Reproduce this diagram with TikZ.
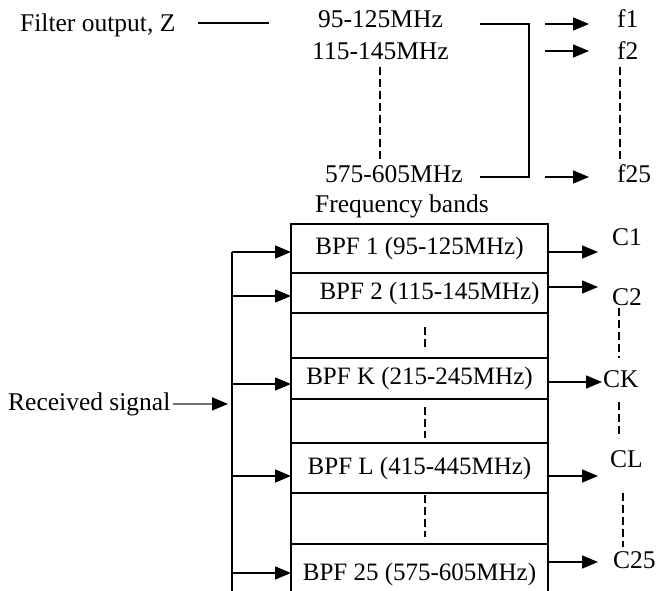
\documentclass[tikz,border=0pt]{standalone}
\usepackage{fontspec}
\setmainfont{Liberation Serif}
\usepackage{tikz}
\usetikzlibrary{arrows.meta, positioning, calc}
\tikzstyle{line} = [line width=1.5pt]
\tikzstyle{arrow} = [line width=1.5pt, -{Triangle[length=16pt, width=13pt]}]
\tikzstyle{dots} = [line width=1.1pt, dash pattern=on 8pt off 4pt]

\begin{document}
\begin{tikzpicture}[x=1pt, y=-1pt,
		row/.style={
			draw=black,
			line width=1.5pt,
			rectangle,
			inner sep=0pt,
			outer sep=0pt,
			minimum width=257pt,
			font=\fontsize{25}{30}\selectfont},
		lbl/.style={
			inner sep=0pt,
			anchor=base west,
			font=\fontsize{25.5}{30}\selectfont}]
		\clip (0,0) rectangle (658,591);

		% frequency bands of the filter output
		\node (filt) [lbl] at (20,32) {Filter output, Z};
		\node (fb1) [lbl] at (318,28) {95-125MHz};
		\node (fb2) [lbl] at (312,60) {115-145MHz};
		\node (fb25) [lbl] at (325,182) {575-605MHz};
		\node (f1) [lbl] at (617,28) {f1};
		\node (f2) [lbl] at (617,60) {f2};
		\node (f25) [lbl] at (617,182) {f25};
		\node (fbands) [lbl] at (315,212) {Frequency bands};

		\draw [line] ([xshift=22pt, yshift=3pt]filt.east) -- ++(71,0);
		\draw [line] (480,24) -| (529,177) -- (480,177);
		\draw [arrow] (545,24) -- (589,24);
		\draw [arrow] (545,51) -- (589,51);
		\draw [arrow] (545,177) -- (589,177);
		\draw [dots] (380,67) -- (380,160);
		\draw [dots] (620,67) -- (620,163);

		% bank of band pass filters
		\node (band1) [row, minimum height=49pt, anchor=north] at (419.5,224) {BPF 1 (95-125MHz)};
		\node (band2) [row, minimum height=40pt, below=0pt of band1] {\hspace*{20pt}BPF 2 (115-145MHz)};
		\node (gapA) [row, minimum height=45pt, below=0pt of band2] {};
		\node (bandK) [row, minimum height=41pt, below=0pt of gapA] {BPF K (215-245MHz)};
		\node (gapB) [row, minimum height=44pt, below=0pt of bandK] {};
		\node (bandL) [row, minimum height=50pt, below=0pt of gapB] {BPF L (415-445MHz)};
		\node (gapC) [row, minimum height=51pt, below=0pt of bandL] {};
		\node (band25) [row, minimum height=60pt, below=0pt of gapC] {BPF 25 (575-605MHz)};

		\draw [dots] ([xshift=5.5pt, yshift=-14pt]gapA.north) -- ([xshift=5.5pt, yshift=11pt]gapA.south);
		\draw [dots] ([xshift=5.5pt, yshift=-8pt]gapB.north) -- ([xshift=5.5pt, yshift=5pt]gapB.south);
		\draw [dots] ([xshift=5.5pt, yshift=-2pt]gapC.north) -- ([xshift=5.5pt, yshift=7pt]gapC.south);

		% received signal and input bus
		\node (rx) [lbl] at (8,410) {Received signal};
		\coordinate (tap1) at (232,252);
		\coordinate (tap2) at (232,296);
		\coordinate (tapK) at (232,384);
		\coordinate (tapL) at (232,476);
		\coordinate (tap25) at (232,573);
		\coordinate (busend) at (232,600);

		\draw [line] (tap1) -- (busend);
		\draw [arrow] (tap1) -- (tap1 -| band1.west);
		\draw [arrow] (tap2) -- (tap2 -| band2.west);
		\draw [arrow] (tapK) -- (tapK -| bandK.west);
		\draw [arrow] (tapL) -- (tapL -| bandL.west);
		\draw [arrow] (tap25) -- (tap25 -| band25.west);
		\draw [arrow, draw=black!55, -{Triangle[length=16pt, width=13pt, color=black]}] ([xshift=2pt]rx.east) -- ([xshift=-4pt]rx.east -| tap1);

		% filter outputs
		\node (c1) [lbl] at (612,245) {C1};
		\node (c2) [lbl] at (612,305) {C2};
		\node (cK) [lbl] at (603,387) {CK};
		\node (cL) [lbl] at (610,467) {CL};
		\node (c25) [lbl] at (613,568) {C25};

		\draw [arrow] ([yshift=-3.5pt]band1.east) -- ++(50,0);
		\draw [arrow] ([yshift=6pt]band2.east) -- ++(50,0);
		\draw [arrow] ([yshift=-3.5pt]bandK.east) -- ++(54,0);
		\draw [arrow] ([yshift=-8pt]bandL.east) -- ++(50,0);
		\draw [arrow] ([yshift=12pt]band25.east) -- ++(50,0);
		\draw [dots] (619,308) -- (619,358);
		\draw [dots] (619,402) -- (619,438);
		\draw [dots] (623,493) -- (623,547);

	\end{tikzpicture}
\end{document}
